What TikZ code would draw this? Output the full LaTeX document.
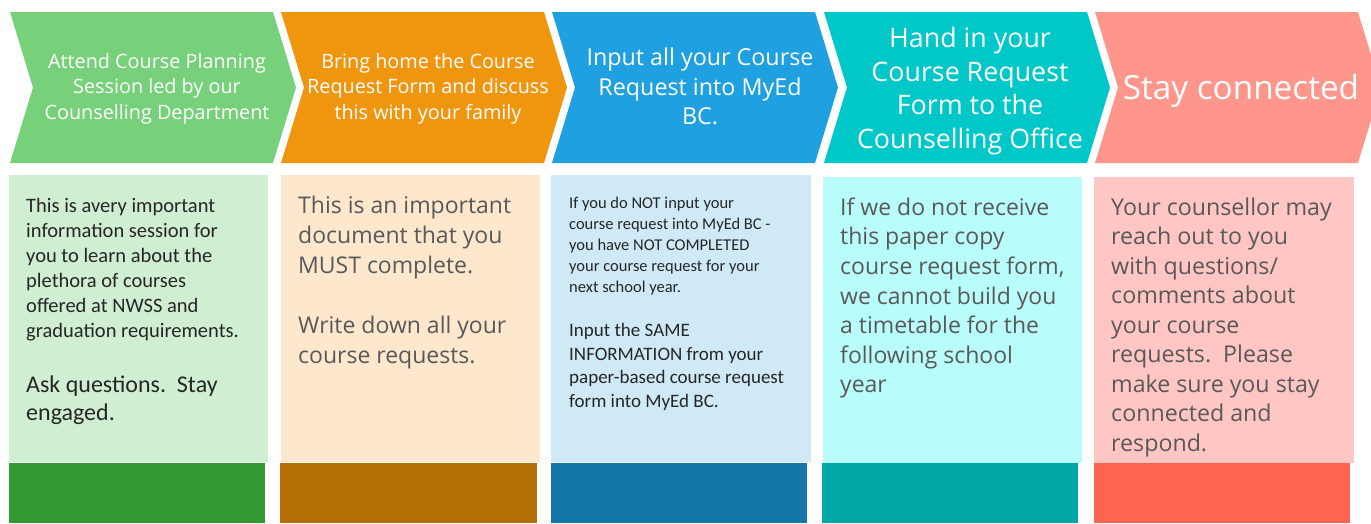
\documentclass[tikz,border=0pt]{standalone}
\usepackage{fontspec}
\setmainfont{Open Sans}
\newfontfamily\calfont{Carlito}
\definecolor{cgreen}{HTML}{77D17A}
\definecolor{corange}{HTML}{F0960E}
\definecolor{cblue}{HTML}{1FA0E0}
\definecolor{cteal}{HTML}{00C8C8}
\definecolor{csalmon}{HTML}{FF968C}
\definecolor{lgreen}{HTML}{D0EED2}
\definecolor{lorange}{HTML}{FDE7CD}
\definecolor{lblue}{HTML}{CFE9F7}
\definecolor{lteal}{HTML}{B9FCFC}
\definecolor{lsalmon}{HTML}{FFC6C3}
\definecolor{dgreen}{HTML}{339933}
\definecolor{dorange}{HTML}{B36F06}
\definecolor{dblue}{HTML}{1577A7}
\definecolor{dteal}{HTML}{00A9A5}
\definecolor{dsalmon}{HTML}{FF6351}
\definecolor{txtdark}{HTML}{262626}
\definecolor{txtgray}{HTML}{595959}
\begin{document}
\begin{tikzpicture}[x=1pt,y=-1pt,
  headtext/.style={text=white,align=center,inner sep=0pt,anchor=center},
  bodytext/.style={align=left,inner sep=0pt,anchor=north west},
  lightbox/.style={inner sep=0pt,anchor=north west},
  darkbox/.style={inner sep=0pt,anchor=north west}]
\useasboundingbox (0,0) rectangle (1371,523);
% chevrons
\foreach \x/\c in {10/cgreen,281/corange,552/cblue,824/cteal,1095/csalmon}{
  \fill[\c] (\x,12) -- ++(263,0) -- ++(23,75.5) -- ++(-23,75.5) -- ++(-263,0) -- ++(23,-75.5) -- cycle;
}
% light boxes
\foreach \n/\x/\w/\y/\h/\c in {l1/9/259/175/287/lgreen,l2/281/259/175/287/lorange,l3/551/260/175/287/lblue,l4/823/259/177/286/lteal,l5/1094/260/177/286/lsalmon}{
  \node[lightbox,fill=\c,minimum width=\w pt,minimum height=\h pt] (\n) at (\x,\y) {};
}
% dark boxes
\foreach \n/\x/\w/\c in {d1/9/256/dgreen,d2/280/257/dorange,d3/551/256/dblue,d4/822/256/dteal,d5/1094/256/dsalmon}{
  \node[darkbox,fill=\c,minimum width=\w pt,minimum height=60pt] (\n) at (\x,463) {};
}
% header texts
\node[headtext,font=\fontsize{19.8}{25.5}\selectfont] (h1) at (157,88.5) {Attend Course Planning\\Session led by our\\Counselling Department};
\node[headtext,font=\fontsize{19.8}{25.5}\selectfont] (h2) at (428,88.5) {Bring home the Course\\Request Form and discuss\\this with your family};
\node[headtext,font=\fontsize{23.3}{29.5}\selectfont] (h3) at (700,86.5) {Input all your Course\\Request into MyEd\\BC.};
\node[headtext,font=\fontsize{26.8}{33.5}\selectfont] (h4) at (970,91) {Hand in your\\Course Request\\Form to the\\Counselling Office};
\node[headtext,font=\fontsize{33.3}{38}\selectfont] (h5) at (1241,91) {Stay connected};
% body texts
\node[bodytext,text=txtdark,font=\calfont\fontsize{20.5}{25}\selectfont] (b1a) at (26,198) {This is avery important\\information session for\\you to learn about the\\plethora of courses\\offered at NWSS and\\graduation requirements.};
\node[bodytext,text=txtdark,font=\calfont\fontsize{24}{28}\selectfont] (b1b) at (26,375.5) {Ask questions.\ \ Stay\\engaged.};
\node[bodytext,text=txtgray,font=\fontsize{23}{30}\selectfont] (b2) at (298,195.5) {This is an important\\document that you\\MUST complete.\\[30pt]Write down all your\\course requests.};
\node[bodytext,text=txtdark,font=\calfont\fontsize{16.5}{21}\selectfont] (b3a) at (569,197) {If you do NOT input your\\course request into MyEd BC -\\you have NOT COMPLETED\\your course request for your\\next school year.};
\node[bodytext,text=txtdark,font=\calfont\fontsize{19}{23.5}\selectfont] (b3b) at (569,323.5) {Input the SAME\\INFORMATION from your\\paper-based course request\\form into MyEd BC.};
\node[bodytext,text=txtgray,font=\fontsize{23}{29.6}\selectfont] (b4) at (840,197.5) {If we do not receive\\this paper copy\\course request form,\\we cannot build you\\a timetable for the\\following school\\year};
\node[bodytext,text=txtgray,font=\fontsize{23.2}{29.5}\selectfont] (b5) at (1111,197.5) {Your counsellor may\\reach out to you\\with questions/\\comments about\\your course\\requests.\ \ Please\\make sure you stay\\connected and\\respond.};
\end{tikzpicture}
\end{document}
